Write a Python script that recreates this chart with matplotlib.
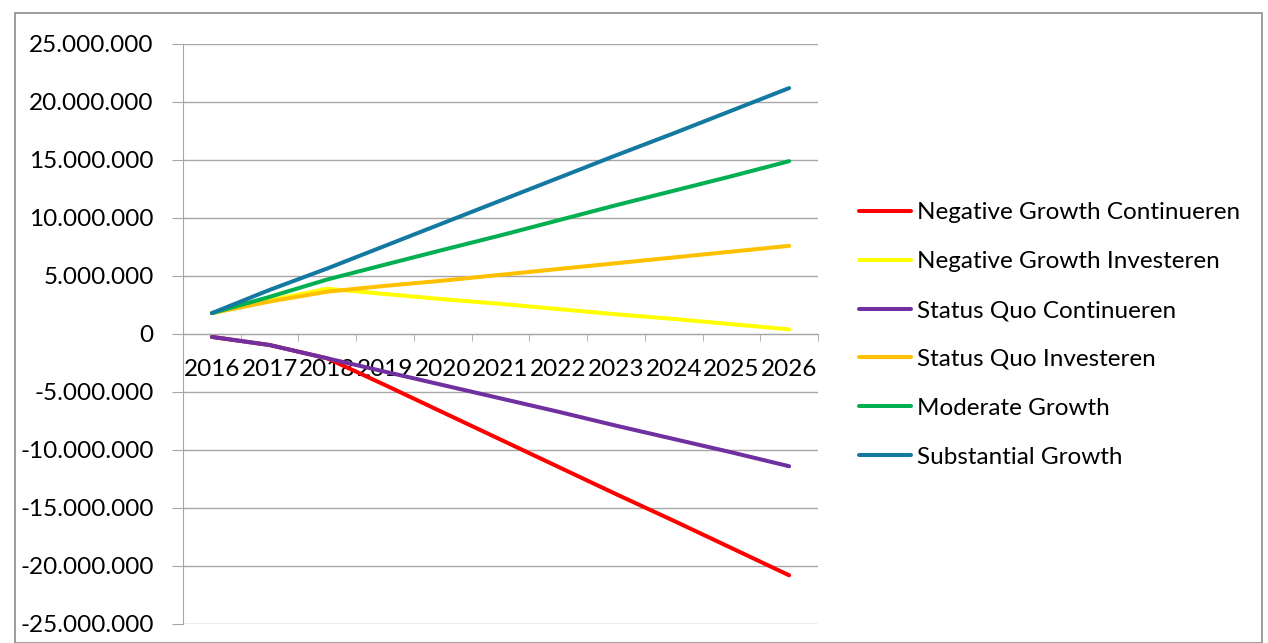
import matplotlib
matplotlib.use('Agg')
import matplotlib.pyplot as plt
from matplotlib.patches import Rectangle
from matplotlib.ticker import FuncFormatter, FixedLocator

plt.rcParams['font.family'] = ['Lato', 'DejaVu Sans']
plt.rcParams['font.size'] = 17.5

years = ['2016', '2017', '2018', '2019', '2020', '2021', '2022', '2023', '2024', '2025', '2026']

# scenario results per year
neg_growth_cont = [-250000, -950000, -2100000, -4400000, -6750000, -9100000, -11450000,
                   -13800000, -16100000, -18450000, -20800000]
neg_growth_inv = [1800000, 2900000, 3900000, 3450000, 3000000, 2600000, 2150000,
                  1700000, 1300000, 850000, 400000]
status_quo_cont = [-250000, -950000, -2100000, -3250000, -4400000, -5550000, -6700000,
                   -7900000, -9050000, -10200000, -11400000]
status_quo_inv = [1800000, 2800000, 3650000, 4150000, 4600000, 5100000, 5600000,
                  6100000, 6600000, 7100000, 7600000]
moderate_growth = [1800000, 3200000, 4700000, 5980000, 7250000, 8500000, 9800000,
                   11100000, 12350000, 13600000, 14900000]
substantial_growth = [1800000, 3800000, 5650000, 7600000, 9550000, 11500000, 13450000,
                      15400000, 17300000, 19250000, 21200000]

series = [
    ('Negative Growth Continueren', neg_growth_cont, '#FF0000'),
    ('Negative Growth Investeren', neg_growth_inv, '#FFFF00'),
    ('Status Quo Continueren', status_quo_cont, '#7030A0'),
    ('Status Quo Investeren', status_quo_inv, '#FFC000'),
    ('Moderate Growth', moderate_growth, '#00B050'),
    ('Substantial Growth', substantial_growth, '#1479A0'),
]

fig = plt.figure(figsize=(12.68, 6.43), dpi=100)
fig.patches.append(Rectangle((15 / 1268, 0), 1247 / 1268, 630 / 643,
                             transform=fig.transFigure, fill=False,
                             edgecolor='#8c8c8c', lw=1.2))

ax = fig.add_axes([183 / 1268, 19 / 643, 635 / 1268, 580 / 643])
x = list(range(len(years)))
for name, vals, col in series:
    ax.plot(x, vals, color=col, lw=2.9, label=name, solid_capstyle='round')

ax.set_xlim(-0.5, len(years) - 0.5)
ax.set_ylim(-25e6, 25e6)
ax.set_yticks(range(-25000000, 25000001, 5000000))
ax.yaxis.set_major_formatter(FuncFormatter(lambda v, p: f'{int(v):,}'.replace(',', '.')))
ax.grid(axis='y', color='#a6a6a6', lw=1)
ax.set_axisbelow(True)

ax.set_xticks(x)
ax.set_xticklabels(years)
ax.xaxis.set_minor_locator(FixedLocator([i - 0.5 for i in range(len(years) + 1)]))
ax.tick_params(axis='x', which='major', length=0, pad=18)
ax.tick_params(axis='x', which='minor', length=5, color='#a6a6a6', direction='out')
ax.tick_params(axis='y', length=8, color='#a6a6a6', direction='out', pad=13)

for s in ['top', 'right']:
    ax.spines[s].set_visible(False)
ax.spines['bottom'].set_position(('data', 0))
ax.spines['bottom'].set_color('#a6a6a6')
ax.spines['left'].set_color('#a6a6a6')

ax.legend(loc='center left', bbox_to_anchor=(1.0487, 0.5 - 1 / 580),
          frameon=False, handlelength=2.17, handletextpad=0.25,
          labelspacing=1.15, borderaxespad=0)

fig.savefig('out.png', dpi=100)
